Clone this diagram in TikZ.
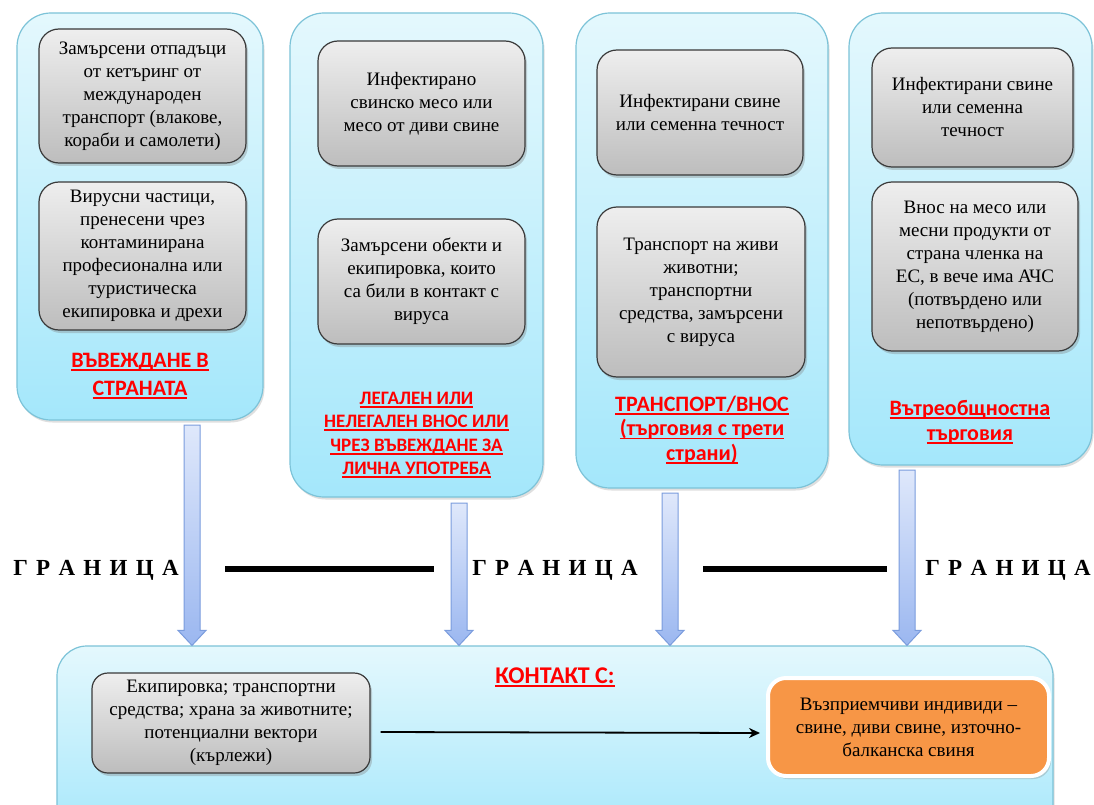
\documentclass[tikz,border=0pt]{standalone}
\usepackage{fontspec}
\setmainfont{Liberation Serif}
\newfontfamily\lblfont{Carlito}
\usetikzlibrary{shadows,calc,arrows.meta}
\definecolor{boxtop}{HTML}{E4F8FD}
\definecolor{boxbot}{HTML}{A4E7FB}
\definecolor{boxedge}{HTML}{7CC3D8}
\definecolor{graytop}{HTML}{EEEEEE}
\definecolor{graybot}{HTML}{BDBDBD}
\definecolor{grayedge}{HTML}{3A3A3A}
\definecolor{arrtop}{HTML}{DFE8FB}
\definecolor{arrbot}{HTML}{9BB7F0}
\definecolor{arredge}{HTML}{7A9CDD}
\definecolor{orng}{HTML}{F79646}
\definecolor{lblred}{HTML}{FF0000}
\newcommand\grtext{Г\hspace{8.3pt}Р\hspace{8.3pt}А\hspace{8.3pt}Н\hspace{8.3pt}И\hspace{8.3pt}Ц\hspace{8.3pt}А}
\newsavebox\ulbox
\newcommand\ul[1]{\sbox\ulbox{#1}\rlap{\color{lblred}\rule[-3.5pt]{\wd\ulbox}{1.8pt}}\usebox\ulbox}
\begin{document}
\begin{tikzpicture}[x=1pt,y=-1pt,
  colbox/.style={rounded corners=34pt, draw=boxedge, line width=1.2pt,
    top color=boxtop, bottom color=boxbot,
    drop shadow={opacity=0.25,shadow xshift=1.5pt,shadow yshift=-2.5pt},
    inner sep=0pt},
  graybox/.style={rounded corners=20pt, draw=grayedge, line width=1.2pt,
    top color=graytop, bottom color=graybot,
    drop shadow={opacity=0.35,shadow xshift=2pt,shadow yshift=-3pt},
    align=center, inner sep=2pt,
    font=\fontsize{19}{23}\selectfont},
  orbox/.style={rounded corners=18pt, draw=white, line width=4pt, fill=orng,
    drop shadow={opacity=0.3,shadow xshift=2pt,shadow yshift=-3pt},
    align=center, inner sep=2pt, font=\fontsize{19}{23}\selectfont},
  redlbl/.style={align=center, text=lblred, font=\lblfont\bfseries\fontsize{22}{28}\selectfont},
  grlbl/.style={font=\bfseries\fontsize{23}{24}\selectfont, inner sep=0pt},
  barrow/.style={draw=arredge, line width=1pt, top color=arrtop, bottom color=arrbot},
  harrow/.style={draw=black, line width=1.8pt, -{Stealth[length=11pt,width=10pt]}},
  bline/.style={line width=6pt, draw=black}
]
\useasboundingbox (0,0) rectangle (1094,805);
\fill[white] (0,0) rectangle (1094,805);

% column boxes
\node[colbox, minimum width=246pt, minimum height=407pt] (c1) at (140,216.5) {};
\node[colbox, minimum width=253pt, minimum height=484pt] (c2) at (416.5,255) {};
\node[colbox, minimum width=252pt, minimum height=475pt] (c3) at (702,250.5) {};
\node[colbox, minimum width=243pt, minimum height=452pt] (c4) at (970.5,239) {};

% column 1
\node[graybox, minimum width=207pt, minimum height=134pt] (g1a) at (142.5,96)
  {Замърсени отпадъци\\от кетъринг от\\международен\\транспорт (влакове,\\кораби и самолети)};
\node[graybox, minimum width=207pt, minimum height=148pt] (g1b) at (142.5,256)
  {Вирусни частици,\\пренесени чрез\\контаминирана\\професионална или\\туристическа\\екипировка и дрехи};
\node[redlbl] (l1) at (140,376) {\ul{ВЪВЕЖДАНЕ В}\\\ul{СТРАНАТА}};

% column 2
\node[graybox, minimum width=207pt, minimum height=125pt] (g2a) at (421.5,103.5)
  {Инфектирано\\свинско месо или\\месо от диви свине};
\node[graybox, minimum width=207pt, minimum height=125pt] (g2b) at (421.5,281.5)
  {Замърсени обекти и\\екипировка, които\\са били в контакт с\\вируса};
\node[redlbl, font=\lblfont\bfseries\fontsize{19}{23.5}\selectfont] (l2) at (416.5,435)
  {\ul{ЛЕГАЛЕН ИЛИ}\\\ul{НЕЛЕГАЛЕН ВНОС ИЛИ}\\\ul{ЧРЕЗ ВЪВЕЖДАНЕ ЗА}\\\ul{ЛИЧНА УПОТРЕБА}};

% column 3
\node[graybox, minimum width=206pt, minimum height=125pt] (g3a) at (700,112.5)
  {Инфектирани свине\\или семенна течност};
\node[graybox, minimum width=208pt, minimum height=170pt] (g3b) at (701,292)
  {Транспорт на живи\\животни;\\транспортни\\средства, замърсени\\с вируса};
\node[redlbl, font=\lblfont\bfseries\fontsize{22}{24.5}\selectfont] (l3) at (702,430)
  {\ul{ТРАНСПОРТ/ВНОС}\\\ul{(търговия с трети}\\\ul{страни)}};

% column 4
\node[graybox, minimum width=201pt, minimum height=119pt] (g4a) at (972.5,107.5)
  {Инфектирани свине\\или семенна\\течност};
\node[graybox, minimum width=206pt, minimum height=169pt] (g4b) at (975,266.5)
  {Внос на месо или\\месни продукти от\\страна членка на\\ЕС, в вече има АЧС\\(потвърдено или\\непотвърдено)};
\node[redlbl, font=\lblfont\bfseries\fontsize{22}{25}\selectfont] (l4) at (970,422)
  {\ul{Вътреобщностна}\\\ul{търговия}};

% bottom box
\node[colbox, rounded corners=30pt, minimum width=996pt, minimum height=200pt] (bot) at (555,746) {};
\node[redlbl, font=\lblfont\bfseries\fontsize{24}{26}\selectfont] (kont) at (555,677) {\ul{КОНТАКТ С:}};
\node[graybox, rounded corners=16pt, minimum width=278pt, minimum height=100pt] (gb) at (231,723)
  {Екипировка; транспортни\\средства; храна за животните;\\потенциални вектори\\(кърлежи)};
\node[orbox, minimum width=281pt, minimum height=98pt] (or) at (908.5,727)
  {Възприемчиви индивиди –\\свине, диви свине, източно-\\балканска свиня};
\draw[harrow] ($(gb.east)+(10,9)$) -- ($(or.west)+(-6,6)$);

% block arrows
\coordinate (a1) at (192,425);
\coordinate (a2) at (459,503);
\coordinate (a3) at (670,493);
\coordinate (a4) at (907,470);
\foreach \a in {a1,a2,a3,a4}{
  \draw[barrow] let \p1=(\a), \p2=(\a |- bot.north) in
    (\x1-8pt,\y1) -- (\x1-8pt,\y2+15pt) -- (\x1-14pt,\y2+15pt) -- (\x1,\y2)
    -- (\x1+14pt,\y2+15pt) -- (\x1+8pt,\y2+15pt) -- (\x1+8pt,\y1) -- cycle;
}

% border text and lines
\node[grlbl] (gr1) at (96,570) {\grtext};
\node[grlbl] (gr2) at (555,570) {\grtext};
\node[grlbl] (gr3) at (1008,570) {\grtext};
\coordinate (b1s) at (225,569);
\coordinate (b1e) at (434,569);
\coordinate (b2s) at (703,569);
\coordinate (b2e) at (887,569);
\draw[bline] (b1s) -- (b1e);
\draw[bline] (b2s) -- (b2e);
\end{tikzpicture}
\end{document}
